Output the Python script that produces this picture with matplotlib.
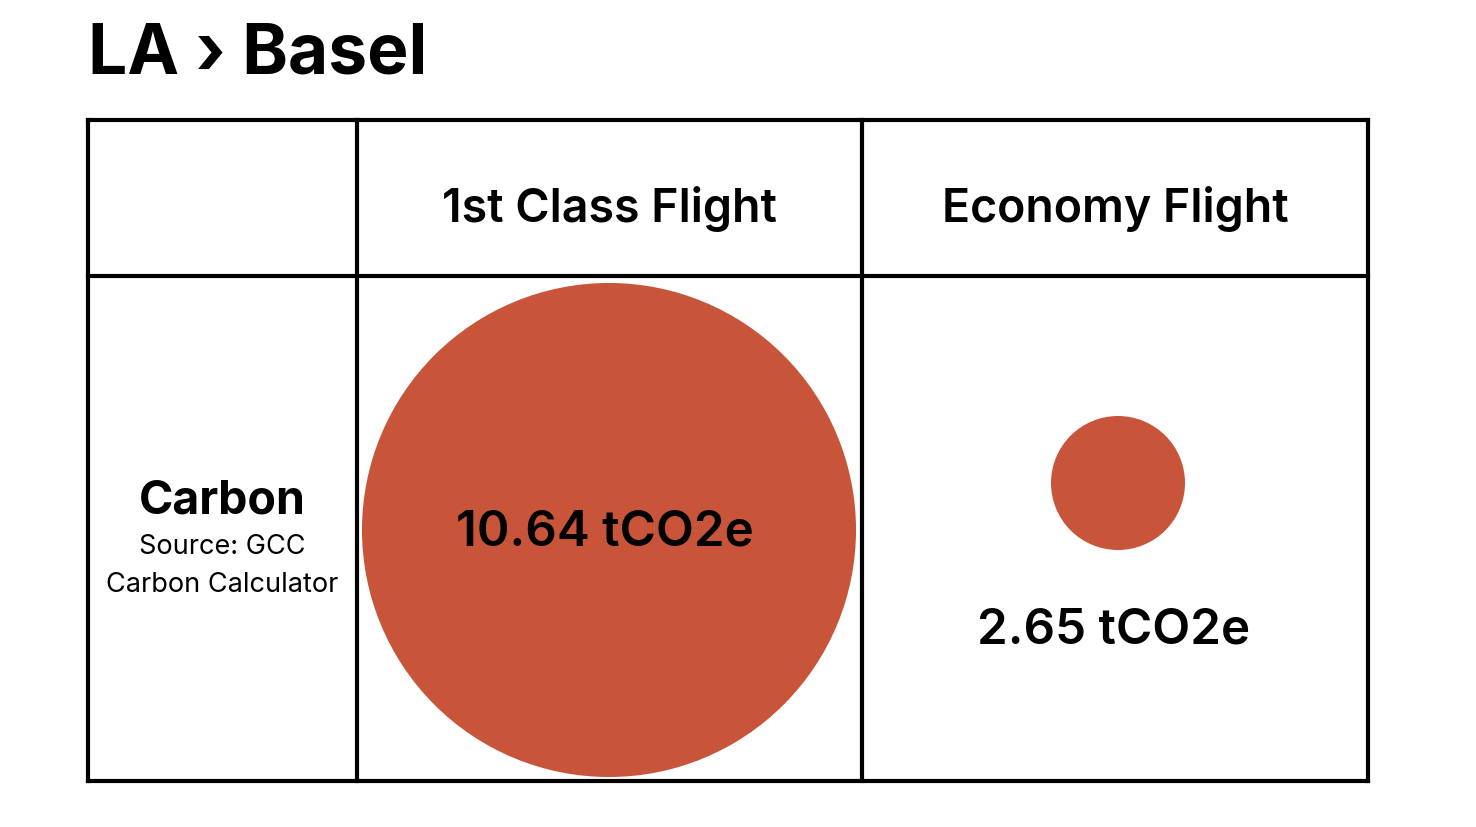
import matplotlib.pyplot as plt
from matplotlib.patches import Circle

title = "LA \u203a Basel"
columns = ["1st Class Flight", "Economy Flight"]
row_label = "Carbon"
row_note = "Source: GCC\nCarbon Calculator"
values = [10.64, 2.65]
unit = "tCO2e"

color = "#C8553A"
font = "Inter"

fig = plt.figure(figsize=(14.76, 8.27), dpi=100)
ax = fig.add_axes([0, 0, 1, 1])
ax.set_xlim(0, 1476)
ax.set_ylim(827, 0)
ax.set_aspect("equal")
ax.axis("off")

# table grid
left, right, top, bottom = 88, 1368, 120, 781
col_x = [left, 357, 862, right]
row_y = [top, 276, bottom]
lw = 3
for x in col_x:
    ax.plot([x, x], [top, bottom], color="black", lw=lw, solid_capstyle="projecting")
for y in row_y:
    ax.plot([left, right], [y, y], color="black", lw=lw, solid_capstyle="projecting")

ax.text(88, 55, title, fontsize=50, fontweight="bold", family=font,
        ha="left", va="center")

for i, c in enumerate(columns):
    cx = (col_x[i + 1] + col_x[i + 2]) / 2
    ax.text(cx, 209, c, fontsize=33.5, fontweight="semibold", family=font,
            ha="center", va="center")

ax.text(222, 501, row_label, fontsize=33.5, fontweight="bold", family=font,
        ha="center", va="center")
ax.text(222, 566, row_note, fontsize=19.5, family=font, ha="center",
        va="center", linespacing=1.62)

# radius grows with value
radii = [22.53 * v + 7.3 for v in values]
centers = [(609, 530), (1118, 483)]
label_y = [532, 631]
for v, r, (cx, cy), ly in zip(values, radii, centers, label_y):
    ax.add_patch(Circle((cx, cy), r, color=color, lw=0))
    ax.text(cx - 4, ly, f"{v:.2f} {unit}", fontsize=35.5, fontweight="semibold",
            family=font, ha="center", va="center")

fig.savefig("out.png", dpi=100)
